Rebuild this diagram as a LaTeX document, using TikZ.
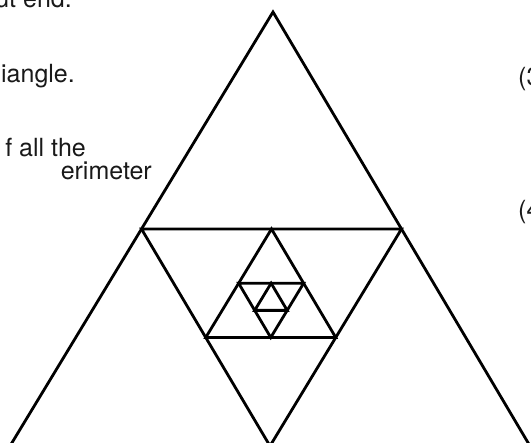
\documentclass[tikz,border=0pt]{standalone}
\usepackage{fontspec}
\setmainfont{TeX Gyre Heros}
\usetikzlibrary{calc}
\newcommand{\bigtxt}{\fontsize{25pt}{29pt}\selectfont}
\tikzset{
  tri/.style={draw=black, line width=2.8pt, line join=miter},
  txt/.style={inner sep=0pt, text=black!90}
}
\begin{document}
\begin{tikzpicture}[x=1pt,y=-1pt]
\useasboundingbox (0,0) rectangle (531,443);
\clip (0,0) rectangle (531,443);
% outer triangle
\coordinate (A) at (273,12);
\coordinate (BL) at (10,446);
\coordinate (BR) at (530,446);
% level 1 (inverted)
\coordinate (M1) at ($(A)!0.5!(BL)$);
\coordinate (M2) at ($(A)!0.5!(BR)$);
\coordinate (M3) at ($(BL)!0.5!(BR)$);
% level 2 (upright)
\coordinate (N1) at ($(M1)!0.5!(M2)$);
\coordinate (N2) at ($(M1)!0.5!(M3)$);
\coordinate (N3) at ($(M2)!0.5!(M3)$);
% level 3 (inverted)
\coordinate (P1) at ($(N1)!0.5!(N2)$);
\coordinate (P2) at ($(N1)!0.5!(N3)$);
\coordinate (P3) at ($(N2)!0.5!(N3)$);
% level 4 (upright)
\coordinate (Q1) at ($(P1)!0.5!(P2)$);
\coordinate (Q2) at ($(P1)!0.5!(P3)$);
\coordinate (Q3) at ($(P2)!0.5!(P3)$);
\draw[tri] (A) -- (BL) -- (BR) -- cycle;
\draw[tri] (M1) -- (M2) -- (M3) -- cycle;
\draw[tri] (N1) -- (N2) -- (N3) -- cycle;
\draw[tri] (P1) -- (P2) -- (P3) -- cycle;
\draw[tri] (Q1) -- (Q2) -- (Q3) -- cycle;
% cropped text
\node[txt, anchor=base east] (t1) at (72,8) {\bigtxt ut end.};
\node[txt, anchor=base east] (t2) at (75,83) {\bigtxt iangle.};
\node[txt, anchor=base east] (t3) at (86,157) {\bigtxt f all the};
\node[txt, anchor=base east] (t4) at (152,180) {\bigtxt erimeter};
\node[txt, anchor=base west] (t5) at (518,86) {\bigtxt (3};
\node[txt, anchor=base west] (t6) at (518,219) {\bigtxt (4};
\end{tikzpicture}
\end{document}
